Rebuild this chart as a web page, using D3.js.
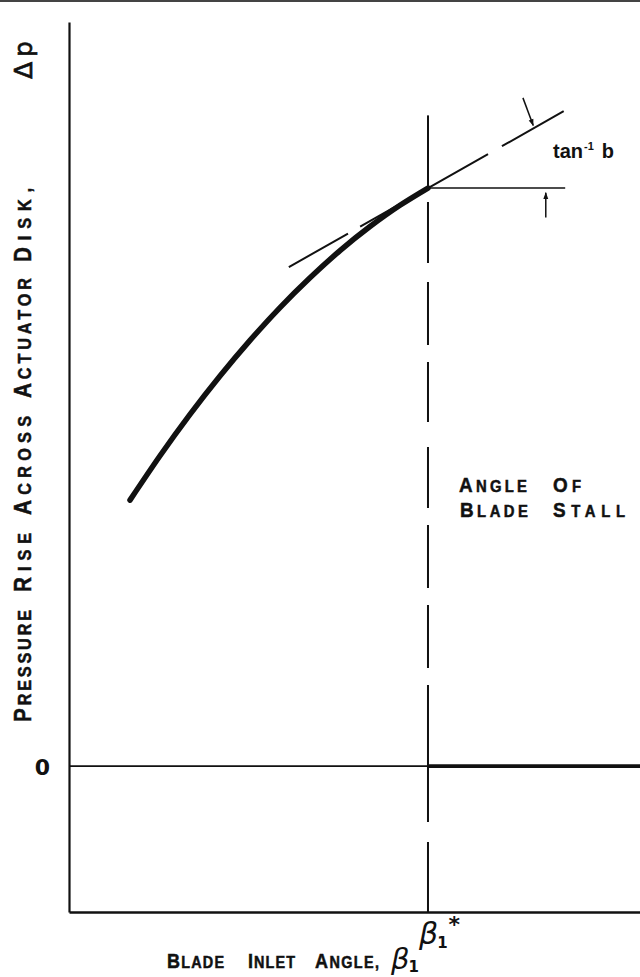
<!DOCTYPE html>
<html>
<head>
<meta charset="utf-8">
<script src="https://cdn.jsdelivr.net/npm/d3@7"></script>
<style>
  html, body { margin: 0; padding: 0; background: #fff; }
  svg { display: block; }
  text { font-family: "Liberation Sans", Arial, sans-serif; font-weight: bold; fill: #111; }
</style>
</head>
<body>
<svg id="chart" width="640" height="977"></svg>
<script>
// ---- data (arbitrary units) ----
const curveBeta = [1.068, 1.594, 2.119, 2.644, 3.170, 3.695, 4.221, 4.746, 5.271, 5.797, 6.287];
const curveDp   = [1.823, 2.127, 2.411, 2.674, 2.918, 3.143, 3.347, 3.533, 3.698, 3.844, 3.962];
const stallBeta = 6.287;
const stallDp = 3.962;
const tangentBeta = [3.85, 8.67];
const tangentDp   = [3.42, 4.49];
const levelBeta = [6.287, 8.69];
const levelDp   = [3.962, 3.962];
const stallLineTopDp = 4.46;
const postStallBeta = [6.287, 10];
const postStallDp = [0, 0];
const arrowTangentBeta = [7.95, 8.13];
const arrowTangentDp = [4.58, 4.39];
const arrowLevelBeta = [8.35, 8.35];
const arrowLevelDp = [3.76, 3.93];
const yTickValues = [0];
const yTickLabels = ["0"];
const xDomain = [0, 10];
const yDomain = [-1, 5.1];
const yTitleWords = ["PRESSURE", "RISE", "ACROSS", "ACTUATOR", "DISK,"];
const xTitleWords = ["BLADE", "INLET", "ANGLE,"];
const stallWords1 = ["ANGLE", "OF"];
const stallWords2 = ["BLADE", "STALL"];

const svg = d3.select("#chart");
const x = d3.scaleLinear().domain(xDomain).range([69, 640]);
const y = d3.scaleLinear().domain(yDomain).range([912, 22]);
const ink = "#111";

// scan edge at the top
svg.append("line").attr("x1", 0).attr("x2", 640).attr("y1", 1).attr("y2", 1)
  .attr("stroke", "#444").attr("stroke-width", 2);

// markers
const defs = svg.append("defs");
defs.append("marker").attr("id", "ah").attr("viewBox", "0 0 10 10")
  .attr("refX", 9).attr("refY", 5).attr("markerWidth", 8).attr("markerHeight", 7)
  .attr("markerUnits", "userSpaceOnUse").attr("orient", "auto")
  .append("path").attr("d", "M0,1.5 L10,5 L0,8.5 Z").attr("fill", ink);

// axes
const yAxis = d3.axisLeft(y).tickValues(yTickValues).tickSize(0).tickSizeOuter(0)
  .tickFormat((d, i) => yTickLabels[i]);
const gy = svg.append("g").attr("transform", `translate(${x(0)},0)`).call(yAxis);
gy.select(".domain").attr("stroke", ink).attr("stroke-width", 2.2);
gy.selectAll(".tick text").attr("x", -19).attr("dy", "0.36em")
  .style("font-size", "22px").style("font-weight", "bold")
  .style("font-family", "'DejaVu Sans', sans-serif").style("fill", ink);

const xAxis = d3.axisBottom(x).tickValues([]).tickSizeOuter(0);
const gx = svg.append("g").attr("transform", `translate(0,${y(-1)})`).call(xAxis);
gx.select(".domain").attr("stroke", ink).attr("stroke-width", 2.5);

// zero line (thin before stall, heavy after)
svg.append("line").attr("x1", x(0)).attr("x2", x(stallBeta)).attr("y1", y(0)).attr("y2", y(0))
  .attr("stroke", ink).attr("stroke-width", 1.6);
const lineGen = d3.line().x(d => x(d[0])).y(d => y(d[1]));
svg.append("path").datum(d3.zip(postStallBeta, postStallDp)).attr("d", lineGen)
  .attr("fill", "none").attr("stroke", ink).attr("stroke-width", 3.6);

// vertical stall line: solid above the point, dashed below
svg.append("line").attr("x1", x(stallBeta)).attr("x2", x(stallBeta))
  .attr("y1", y(stallLineTopDp)).attr("y2", y(stallDp))
  .attr("stroke", ink).attr("stroke-width", 2);
svg.append("line").attr("x1", x(stallBeta)).attr("x2", x(stallBeta))
  .attr("y1", y(stallDp)).attr("y2", y(-1))
  .attr("stroke", ink).attr("stroke-width", 2)
  .attr("stroke-dasharray", "0,14,61,19,63,17,60,25,61,17,63,17,63,17,137,20,70");

// horizontal reference at the stall point
svg.append("path").datum(d3.zip(levelBeta, levelDp)).attr("d", lineGen)
  .attr("fill", "none").attr("stroke", ink).attr("stroke-width", 1.6);

// tangent line
svg.append("path").datum(d3.zip(tangentBeta, tangentDp)).attr("d", lineGen)
  .attr("fill", "none").attr("stroke", ink).attr("stroke-width", 2)
  .attr("stroke-dasharray", "68,14,147,16,71");

// main curve
svg.append("path").datum(d3.zip(curveBeta, curveDp))
  .attr("d", d3.line().x(d => x(d[0])).y(d => y(d[1])).curve(d3.curveNatural))
  .attr("fill", "none").attr("stroke", ink).attr("stroke-width", 5.5)
  .attr("stroke-linecap", "round");

// arrows
svg.append("path").datum(d3.zip(arrowTangentBeta, arrowTangentDp)).attr("d", lineGen)
  .attr("fill", "none").attr("stroke", ink).attr("stroke-width", 1.5).attr("marker-end", "url(#ah)");
svg.append("path").datum(d3.zip(arrowLevelBeta, arrowLevelDp)).attr("d", lineGen)
  .attr("fill", "none").attr("stroke", ink).attr("stroke-width", 1.5).attr("marker-end", "url(#ah)");

// small-caps word fitted to a length (first letter bigger, narrow lettering)
function scWord(px, py, w, big, small, len, rot, sx) {
  const t = svg.append("text")
    .attr("transform", `translate(${px},${py})` + (rot ? " rotate(-90)" : "") + ` scale(${sx},1)`)
    .attr("textLength", len / sx).attr("lengthAdjust", "spacing")
    .attr("stroke", ink).attr("stroke-width", 0.5);
  t.append("tspan").style("font-size", big + "px").text(w[0]);
  if (w.length > 1) t.append("tspan").style("font-size", small + "px").text(w.slice(1));
  return t;
}

// tan^-1 b
const tanT = svg.append("text").attr("x", 553).attr("y", 158)
  .style("font-family", "'Liberation Sans', sans-serif").style("font-size", "20px");
tanT.append("tspan").text("tan");
tanT.append("tspan").style("font-size", "11px").attr("dy", -8).attr("dx", 1).text("-1");
tanT.append("tspan").attr("dy", 8).attr("dx", 8).text("b");

// Angle of blade stall
const stallStart1 = [459, 553], stallLen1 = [68, 28];
const stallStart2 = [460, 553], stallLen2 = [68, 72];
stallWords1.forEach((w, i) => scWord(stallStart1[i], 492, w, 21, 16.5, stallLen1[i], false, 0.9));
stallWords2.forEach((w, i) => scWord(stallStart2[i], 517, w, 21, 16.5, stallLen2[i], false, 0.9));

// beta1* tick label
const bt = svg.append("text").attr("x", x(stallBeta) - 9).attr("y", 944)
  .style("font-family", "'DejaVu Sans', sans-serif").style("font-weight", "normal");
bt.append("tspan").style("font-size", "30px").style("font-style", "italic").text("β");
bt.append("tspan").style("font-size", "15px").style("font-weight", "bold").attr("dy", 4).attr("dx", -1).text("1");
bt.append("tspan").style("font-size", "22px").style("font-weight", "bold").attr("dy", -16).attr("dx", 1).text("*");

// x axis title
const xStart = [167, 248, 315], xLen = [57, 47, 64];
xTitleWords.forEach((w, i) => scWord(xStart[i], 968, w, 20, 16, xLen[i], false, 0.9));
const xb = svg.append("text").attr("x", 391).attr("y", 969)
  .style("font-family", "'DejaVu Sans', sans-serif").style("font-weight", "normal");
xb.append("tspan").style("font-size", "29px").style("font-style", "italic").text("β");
xb.append("tspan").style("font-size", "15px").style("font-weight", "bold").attr("dy", 3).attr("dx", -1).text("1");

// y axis title (rotated)
const yStart = [722, 592, 515, 398, 262], yLen = [112, 59, 99, 120, 74];
yTitleWords.forEach((w, i) => scWord(31, yStart[i], w, 23, 18, yLen[i], true, 0.9));
const dp = svg.append("text").attr("transform", "translate(32,79) rotate(-90)")
  .style("font-family", "'DejaVu Sans', sans-serif").style("font-weight", "normal")
  .attr("stroke", ink).attr("stroke-width", 0.7);
dp.append("tspan").style("font-size", "25px").text("Δ");
dp.append("tspan").style("font-size", "25px").attr("dx", 5).text("p");
</script>
</body>
</html>
